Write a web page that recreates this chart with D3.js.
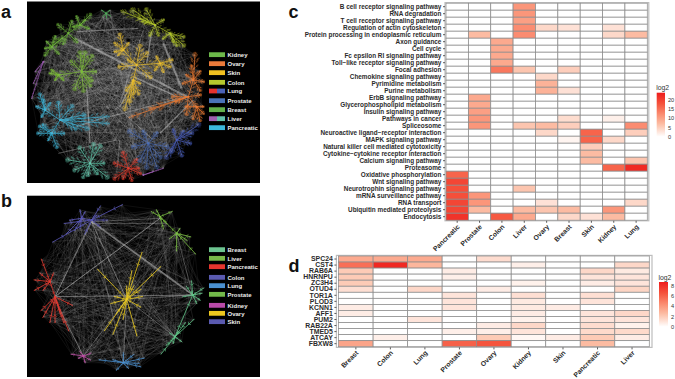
<!DOCTYPE html>
<html><head><meta charset="utf-8">
<script src="https://cdn.jsdelivr.net/npm/d3@7/dist/d3.min.js"></script>
<style>
html,body{margin:0;padding:0;background:#fff}
svg{display:block}
text{font-family:"Liberation Sans",Arial,sans-serif}
</style></head><body>
<svg id="fig" width="675" height="379"></svg>
<script>
// ---------- heatmap c ----------
const cCols=["Pancreatic","Prostate","Colon","Liver","Ovary","Breast","Skin","Kidney","Lung"];
const cRows=["B cell receptor signaling pathway","RNA degradation","T cell receptor signaling pathway","Regulation of actin cytoskeleton","Protein processing in endoplasmic reticulum","Axon guidance","Cell cycle","Fc epsilon RI signaling pathway","Toll\u2212like receptor signaling pathway","Focal adhesion","Chemokine signaling pathway","Pyrimidine metabolism","Purine metabolism","ErbB signaling pathway","Glycerophospholipid metabolism","Insulin signaling pathway","Pathways in cancer","Spliceosome","Neuroactive ligand\u2212receptor interaction","MAPK signaling pathway","Natural killer cell mediated cytotoxicity","Cytokine\u2212cytokine receptor interaction","Calcium signaling pathway","Proteasome","Oxidative phosphorylation","Wnt signaling pathway","Neurotrophin signaling pathway","mRNA surveillance pathway","RNA transport","Ubiquitin mediated proteolysis","Endocytosis"];
const cValues=[
[0,0,0,11,0,0,0,0,0],
[0,0,0,11,0,0,0,0,0],
[0,0,0,10,0,0,0,0,0],
[0,0,0,12,4,3,0,3,0],
[0,7,0,12,0,0,0,4,7],
[0,0,9,0,0,0,0,0,0],
[0,0,9,0,0,0,0,0,0],
[0,0,9,0,0,0,0,0,0],
[0,0,9,0,0,0,0,0,0],
[0,0,14,6,0,5,0,0,0],
[0,0,0,0,4,0,0,0,0],
[0,0,0,0,8,0,0,0,0],
[0,0,0,0,8,3,0,0,0],
[0,9,0,0,0,0,0,0,0],
[0,9,0,0,0,0,0,0,0],
[0,10,0,0,0,0,0,0,0],
[0,11,0,0,0,3.5,0,1.5,0],
[0,11,0,6,7,5,0,0,12],
[0,0,0,0,4,0,16,0,5],
[0,0,0,0,0,1,16,4,0],
[0,0,0,0,0,0,5,0,0],
[0,0,0,0,0,0,7,0,0],
[0,0,0,0,0,0,7,0,6],
[0,0,0,0,0,0,0,16,22],
[16,0,0,0,0,0,0,0,0],
[19,0,0,0,0,0,0,0,0],
[18,0,0,6,0,0,0,0,0],
[18,11,0,0,0,0,0,0,0],
[19,11,0,0,3,0,0,0,4],
[19,7,0,7,6,7,0,11,0],
[21,0,17,9,0,4,3,7,0]];
const cTicks=[0,5,10,15,20];
// ---------- heatmap d ----------
const dCols=["Breast","Colon","Lung","Prostate","Ovary","Kidney","Skin","Pancreatic","Liver"];
const dRows=["SPC24","CST4","RAB6A","HNRNPU","ZC3H4","OTUD4","TOR1A","PLOD3","KCNN1","AFF1","PUM2","RAB22A","TMED5","ATCAY","FBXW8"];
const dValues=[
[3.3,3.3,3.3,0,1.3,0,0,0,0],
[5.5,8.2,2.8,0,0,.6,0,0,1.5],
[2,0,0,.7,0,0,0,1.5,.8],
[2,0,0,.6,0,0,0,1,1],
[2,0,0,0,0,.5,0,.7,1],
[1.2,0,1.5,0,.7,0,0,0,1.6],
[0,0,0,1,0,1.2,0,1.2,0],
[0,0,0,1,0,.8,0,1,0],
[.7,0,0,1,0,.8,.7,0,0],
[.7,0,0,0,0,.7,0,1,1.5],
[0,0,1,0,0,.5,0,1,1],
[0,0,0,0,.7,1.5,0,1.3,.5],
[0,0,0,.6,.6,1,0,1.4,1.4],
[0,.6,0,0,2,.3,.7,2,.7],
[3.5,0,0,6,6.5,0,0,2.6,0]];
const dTicks=[0,2,4,6,8];
// ---------- network a (values in the panel's own node units) ----------
const aLegend=["Kidney","Ovary","Skin","Colon","Lung","Prostate","Breast","Liver","Pancreatic"];
const aLegendColors=[["#6cb84a"],["#ea7a3a"],["#f0c020"],["#b5c82e"],["#e5322e","#4a62b8"],["#4a72b8"],["#63b04a"],["#a060b0","#62c0a8"],["#3bb8dc"]];
const aLegendY=[164,191,218,247,273,302,329,356,383];
const aColors=["#6fb83a","#4fae5a","#b5c92c","#eec02a","#7cc033","#ee7a30","#3db8dc","#62c8ac","#e8392a","#4a6db8","#4a5fc0","#9a5ab0"];
const aColorIdx=[0,0,0,1,2,2,3,3,3,3,4,4,5,5,5,6,6,6,7,8,9,10,11,11];
const aBarbSize=[1,1,1,.3,1,1,1,1,1,1,1,1,1,1,1,1,1,1,1,1,1,1,.22,.15];
const aHubs=[[205,100],[240,75],[155,140],[318,40],[465,75],[510,100],[410,195],[370,150],[480,190],[400,240],[245,215],[175,225],[565,290],[580,240],[590,320],[180,360],[135,330],[155,400],[270,490],[385,505],[445,430],[530,420],[130,185],[430,525]];
const aTips=[
[[240,75],[155,140],[175,75],[190,130],[230,125],[215,65]],
[[270,45],[265,85],[230,50],[255,60],[220,80]],
[[135,165],[140,125],[175,160],[165,110],[135,145],[185,115]],
[[305,30],[330,30],[320,55],[308,50],[332,48]],
[[370,35],[400,30],[440,30],[510,100],[430,65],[420,55],[490,60],[450,105],[475,105]],
[[550,135],[530,135],[550,110],[490,115],[520,125]],
[[370,150],[480,190],[400,240],[420,140],[360,200],[450,230],[440,160],[385,180]],
[[345,130],[360,105],[345,155],[385,130],[355,165]],
[[515,180],[510,200],[470,170],[490,215],[465,210]],
[[375,325],[390,300],[415,280],[420,250],[400,280],[380,270]],
[[175,225],[240,160],[275,170],[285,215],[250,270],[225,265],[270,255],[255,160],[215,185],[275,240]],
[[150,220],[165,240],[155,210],[190,240]],
[[395,350],[580,240],[590,320],[520,290],[560,340],[455,325],[530,305],[600,285]],
[[585,165],[610,245],[550,250],[600,270],[575,200],[600,215],[560,225]],
[[610,320],[580,355],[600,360],[560,320],[610,340]],
[[135,330],[155,400],[320,350],[320,370],[250,345],[215,320],[260,385],[175,310],[225,385]],
[[120,285],[110,320],[130,300],[125,350],[150,310]],
[[120,380],[115,400],[170,440],[145,420],[190,400],[130,375]],
[[205,480],[225,510],[320,530],[300,440],[250,530],[265,525],[310,490],[280,435],[240,445],[290,520]],
[[345,535],[370,460],[420,520],[395,540],[345,490],[410,480],[370,535],[415,505]],
[[390,395],[500,440],[470,500],[440,500],[420,480],[400,440],[470,400],[430,395],[480,470]],
[[595,375],[500,470],[570,430],[545,465],[520,390],[575,400],[515,455],[550,395]],
[[95,295],[105,215],[100,250]],
[[490,505],[460,515]]];
const aLinks=[[225,115,560,290,1.8],[455,95,440,190,1.4],[490,130,545,265,2],[260,260,270,430,1.3],[400,240,360,320,1.2],[580,300,480,400,1.3],[530,290,400,230,1.2],[330,350,560,290,.9],[230,95,415,85,.9],[175,460,350,420,.8],[320,350,230,380,.9],[350,320,460,420,.8],[360,420,350,520,.7],[430,90,360,310,.7]];
// ---------- network b ----------
const bLegend=["Breast","Liver","Pancreatic","Colon","Lung","Prostate","Kidney","Ovary","Skin"];
const bLegendColors=["#6cc490","#78b848","#e5352e","#5a5ab0","#4a90d0","#72b84a","#b84aa8","#eec81e","#5a5ab0"];
const bLegendY=[179,205,230,262,287,313,346,370,395];
const bColors=["#5a58b8","#7cc044","#62c88a","#eccb20","#e53a30","#c050a8","#4a90d0"];
const bColorIdx=[0,0,1,1,2,2,3,4,4,5,6];
const bBarbSize=[1,1,1,1,1,1,1,1,1,1,1];
const bHubs=[[275,90],[245,85],[480,80],[530,130],[578,315],[525,440],[380,328],[165,320],[150,275],[250,498],[370,518]];
const bTips=[
[[160,155],[365,45],[320,90],[300,50],[195,100],[300,110],[255,130],[290,75],[245,85]],
[[240,60],[200,130],[240,115],[255,65],[225,120],[210,90]],
[[455,65],[470,60],[515,65],[490,115],[530,130],[500,100]],
[[570,140],[585,190],[530,180],[560,150],[540,115],[510,145]],
[[560,290],[610,295],[600,330],[575,275],[550,320],[590,340],[525,440],[605,310]],
[[485,490],[500,465],[545,455],[510,430],[555,400],[520,460],[535,425],[580,390]],
[[295,240],[425,190],[480,232],[340,430],[410,435],[345,320],[425,320],[350,370],[420,350],[400,290],[370,385],[335,340],[420,300],[380,290],[395,245],[315,420]],
[[150,275],[215,345],[150,395],[190,395],[165,395],[125,360],[130,380],[205,420],[180,370]],
[[125,210],[105,300],[130,300],[160,250],[120,250],[105,270]],
[[215,493],[272,490],[255,518],[240,485],[270,510],[235,505]],
[[300,510],[420,530],[350,540],[340,510],[400,495],[370,490],[430,505],[415,520],[385,535]]];
const bLinks=[[275,95,580,315,1.7],[275,95,165,320,1],[275,95,380,328,.9],[480,85,165,320,.7],[165,320,580,315,.8],[380,328,578,315,.6],[275,95,480,85,.7],[165,330,250,498,.9],[525,440,380,328,.5],[370,518,380,328,.6],[250,498,380,328,.5],[165,320,480,85,.6],[275,95,370,518,.5],[530,130,578,315,.6],[275,100,500,100,.7]];
// fixed feather pattern for a branch: where along the branch, side angle, relative length
const barbAt=[.22,.34,.44,.53,.61,.68,.74,.8,.85,.9,.94,.97,1];
const barbTurn=[.9,-.8,.7,-.95,.6,-.7,.85,-.6,.5,-.5,.4,-.35,.15];
const barbLen=[.22,.25,.3,.26,.32,.28,.3,.26,.28,.22,.22,.2,.16];
const twigAt=[.7,1];
const twigTurn=[.6,.35];
const twigLen=[.3,.35];

const svg=d3.select("#fig");
function panel(x,y,w,h){svg.append("rect").attr("x",x).attr("y",y).attr("width",w).attr("height",h).attr("fill","#000");}
const soft=svg.append("defs").append("filter").attr("id","soft").attr("x","-5%").attr("y","-5%").attr("width","110%").attr("height","110%");
soft.append("feGaussianBlur").attr("stdDeviation",.28);

function network(cfg){
  const sx=d3.scaleLinear().domain([0,780]).range([0,260]);
  const sy=d3.scaleLinear().domain([0,570]).range([cfg.top,cfg.top+190]);
  const g=svg.append("g").attr("filter","url(#soft)");
  const pts=cfg.hubs.map((h,i)=>[h,...cfg.tips[i]]);
  for(let i=0;i<pts.length;i++)for(let j=i+1;j<pts.length;j++){
    if(cfg.colorIdx[i]===cfg.colorIdx[j])continue;
    const p=d3.path();
    pts[i].forEach((a,k)=>pts[j].forEach((b,l)=>{
      if((k*3+l*5)%cfg.webStep===0){p.moveTo(sx(a[0]),sy(a[1]));p.lineTo(sx(b[0]),sy(b[1]));}
    }));
    g.append("path").attr("d",p.toString()).attr("fill","none").attr("stroke","#ccc").attr("stroke-width",cfg.webW).attr("stroke-opacity",cfg.webO);
  }
  g.selectAll(".lk").data(cfg.links).enter().append("line")
    .attr("x1",d=>sx(d[0])).attr("y1",d=>sy(d[1])).attr("x2",d=>sx(d[2])).attr("y2",d=>sy(d[3]))
    .attr("stroke","#c8c8c8").attr("stroke-opacity",cfg.linkO).attr("stroke-width",d=>d[4]);
  cfg.hubs.forEach((h,i)=>{
    const c=cfg.colors[cfg.colorIdx[i]];
    const trunk=d3.path(),fine=d3.path();
    const seg=(x0,y0,x1,y1,p)=>{p.moveTo(sx(x0),sy(y0));p.lineTo(sx(x1),sy(y1));};
    cfg.tips[i].forEach(t=>{
      seg(h[0],h[1],t[0],t[1],trunk);
      const dx=t[0]-h[0],dy=t[1]-h[1],len=Math.hypot(dx,dy),ang=Math.atan2(dy,dx);
      barbAt.forEach((f,k)=>{
        if(k%cfg.barbStep!==0&&f<1)return;
        const bx=h[0]+dx*f,by=h[1]+dy*f,L=Math.min(len,cfg.maxLen)*barbLen[k]*cfg.barbScale*cfg.barbSize[i];
        [1,-1].forEach(s=>{
          const a=ang+s*barbTurn[k],ex=bx+Math.cos(a)*L,ey=by+Math.sin(a)*L;
          seg(bx,by,ex,ey,fine);
          if(cfg.twigs)twigAt.forEach((q,m)=>{
            const qx=bx+(ex-bx)*q,qy=by+(ey-by)*q;
            [1,-1].forEach(z=>{const b=a+z*twigTurn[m];seg(qx,qy,qx+Math.cos(b)*L*twigLen[m],qy+Math.sin(b)*L*twigLen[m],fine);});
          });
        });
      });
    });
    g.append("path").attr("d",fine.toString()).attr("fill","none").attr("stroke",c).attr("stroke-width",cfg.fineW).attr("stroke-opacity",cfg.fineO);
    g.append("path").attr("d",trunk.toString()).attr("fill","none").attr("stroke",c).attr("stroke-width",cfg.trunkW);
    g.append("circle").attr("cx",sx(h[0])).attr("cy",sy(h[1])).attr("r",cfg.hubR).attr("fill",c);
  });
}
panel(27,1.5,233,181.5);
network({top:0,hubs:aHubs,tips:aTips,colors:aColors,colorIdx:aColorIdx,barbSize:aBarbSize,links:aLinks,linkO:.5,webStep:11,webW:.3,webO:.24,barbStep:2,barbScale:.75,maxLen:60,fineW:.35,fineO:.75,trunkW:.7,hubR:1,twigs:true});
panel(27,195.7,233,181.3);
network({top:190,hubs:bHubs,tips:bTips,colors:bColors,colorIdx:bColorIdx,barbSize:bBarbSize,links:bLinks,linkO:.5,webStep:7,webW:.3,webO:.26,barbStep:6,barbScale:.55,maxLen:45,fineW:.6,fineO:.95,trunkW:.8,hubR:1,twigs:false});

const legY=d3.scaleLinear().domain([0,780]).range([0,260]);
function legend(names,cols,ys,top){
  names.forEach((n,i)=>{
    const y=top+legY(ys[i]),parts=cols[i];
    const w=d3.scaleBand().domain(d3.range(parts.length)).range([209,225]);
    parts.forEach((c,k)=>svg.append("rect").attr("x",w(k)).attr("y",y-2.4).attr("width",w.bandwidth()).attr("height",4.8).attr("fill",c));
    svg.append("text").attr("x",227.5).attr("y",y+2.3).attr("fill","#eee").attr("font-size",6).attr("font-weight","bold").text(n);
  });
}
legend(aLegend,aLegendColors,aLegendY,0);
legend(bLegend,bLegendColors.map(c=>[c]),bLegendY,190);

const rampStops=[0,.12,.3,.5,.75,1];
const rampCols=["#ffffff","#fee3d8","#fcbba1","#fb8f73","#f5533c","#ee1c1c"];
function heat(cfg){
  const x=d3.scaleBand().domain(cfg.cols).range(cfg.xr);
  const y=d3.scaleBand().domain(cfg.rows).range(cfg.yr);
  const col=d3.scaleLinear().domain(rampStops.map(s=>s*cfg.max)).range(rampCols).clamp(true);
  svg.append("rect").attr("x",cfg.box[0]).attr("y",cfg.box[1]).attr("width",cfg.box[2]-cfg.box[0]).attr("height",cfg.box[3]-cfg.box[1]).attr("fill","#fff").attr("stroke","#bdbdbd").attr("stroke-width",1.2);
  const cells=[];
  cfg.values.forEach((r,i)=>r.forEach((v,j)=>cells.push({r:cfg.rows[i],c:cfg.cols[j],v})));
  svg.append("g").selectAll("rect").data(cells).enter().append("rect")
    .attr("x",d=>x(d.c)).attr("y",d=>y(d.r)).attr("width",x.bandwidth()).attr("height",y.bandwidth())
    .attr("fill",d=>col(d.v)).attr("stroke","#8c8c8c").attr("stroke-width",.75);
  const ya=svg.append("g").attr("transform",`translate(${cfg.box[0]},0)`).call(d3.axisLeft(y).tickSize(2).tickPadding(1.6));
  ya.select(".domain").remove();
  ya.selectAll("text").attr("font-size",cfg.yFont).attr("font-weight","bold").attr("fill","#2b2b2b").style("font-family",'"Liberation Sans",Arial,sans-serif');
  ya.selectAll("line").attr("stroke","#333").attr("stroke-width",.8);
  const xa=svg.append("g").attr("transform",`translate(0,${cfg.box[3]})`).call(d3.axisBottom(x).tickSize(2));
  xa.select(".domain").remove();
  xa.selectAll("line").attr("stroke","#333").attr("stroke-width",.8);
  xa.selectAll("text").attr("font-size",6.8).attr("font-weight","bold").attr("fill","#2b2b2b").attr("text-anchor","end").attr("dy",0).attr("y",0)
    .attr("transform",`translate(3,${cfg.xOff}) rotate(-45)`).style("font-family",'"Liberation Sans",Arial,sans-serif');
  const id="g"+String(cfg.max).replace(".","_");
  const lg=svg.select("defs").append("linearGradient").attr("id",id).attr("x1",0).attr("x2",0).attr("y1",1).attr("y2",0);
  rampStops.forEach((s,i)=>lg.append("stop").attr("offset",(s*100)+"%").attr("stop-color",rampCols[i]));
  const ly=d3.scaleLinear().domain([0,cfg.max]).range(cfg.lgY);
  svg.append("rect").attr("x",cfg.lgX).attr("y",ly(cfg.max)).attr("width",cfg.lgW).attr("height",ly(0)-ly(cfg.max)).attr("fill",`url(#${id})`);
  const la=svg.append("g").attr("transform",`translate(${cfg.lgX+cfg.lgW},0)`).call(d3.axisRight(ly).tickValues(cfg.ticks).tickSize(0).tickPadding(3));
  la.select(".domain").remove();
  la.selectAll("text").attr("font-size",5.6).attr("fill","#333").style("font-family",'"Liberation Sans",Arial,sans-serif');
  svg.append("text").attr("x",cfg.lgX-.5).attr("y",ly(cfg.max)-2.5).attr("font-size",6.8).attr("fill","#333").text("log2");
}
heat({cols:cCols,rows:cRows,values:cValues,xr:[446,647.3],yr:[3.2,220.2],box:[445,2.6,648.8,220.8],yFont:6.4,xOff:6.5,max:23.5,ticks:cTicks,lgX:656.7,lgW:8.3,lgY:[136.7,92.7]});
heat({cols:dCols,rows:dRows,values:dValues,xr:[338.6,649.3],yr:[256,346.7],box:[336.4,255.4,652,347.4],yFont:6.9,xOff:6,max:8.7,ticks:dTicks,lgX:659,lgW:9,lgY:[326.7,282]});

const letters=["a","b","c","d"], letterX=[1,1,288.5,288.5], letterY=[18,207,18,272];
letters.forEach((t,i)=>svg.append("text").attr("x",letterX[i]).attr("y",letterY[i]).attr("font-size",18).attr("font-weight","bold").attr("fill","#111").text(t));
</script>
</body></html>
